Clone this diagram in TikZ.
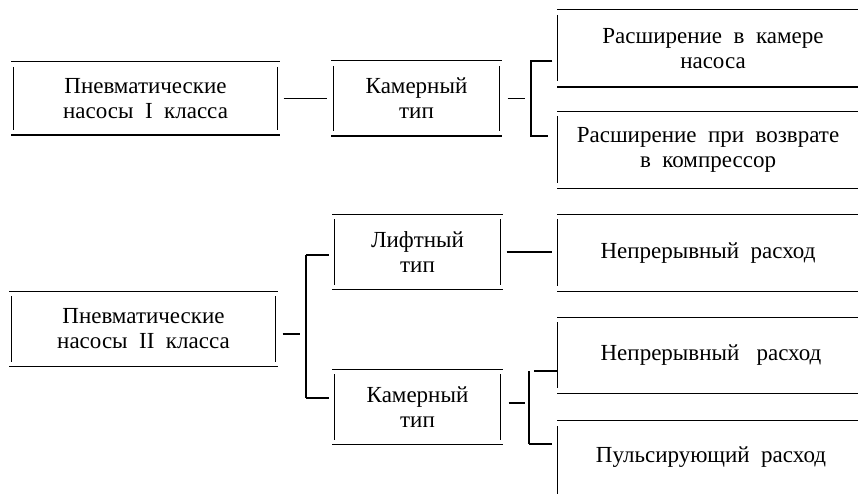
\documentclass[tikz,border=0pt]{standalone}
\usepackage{fontspec}
\setmainfont{Liberation Serif}
\newcommand\fullbox[1]{%
  \draw (#1.north west) -- (#1.north east);
  \draw (#1.south west) -- (#1.south east);
  \draw ([shift={(2pt,-5pt)}]#1.north west) -- ([shift={(2pt,5pt)}]#1.south west);
  \draw ([shift={(-2pt,-5pt)}]#1.north east) -- ([shift={(-2pt,5pt)}]#1.south east);}
\newcommand\openbox[1]{%
  \draw (#1.north west) -- (#1.north east);
  \draw (#1.south west) -- (#1.south east);
  \draw ([shift={(0pt,-5pt)}]#1.north west) -- ([shift={(0pt,6pt)}]#1.south west);}
\begin{document}
\begin{tikzpicture}[x=1pt,y=-1pt,line width=1.25pt,
  lbl/.style={inner sep=0pt,align=center,font=\fontsize{23}{25}\selectfont},
  leftbox/.style={lbl,minimum width=267pt,minimum height=72pt},
  midbox/.style={lbl,minimum width=169pt,minimum height=74pt},
  rightbox/.style={lbl,minimum width=300pt,minimum height=76pt},
  link/.style={shorten <=4pt,shorten >=4pt}]
\useasboundingbox (0,0) rectangle (858,494);

% upper group
\node[leftbox] (A) at (145.5,98.5) {Пневматические\\насосы\ \ I\ \ класса};
\node[midbox] (B) at (416.5,98.5) {Камерный\\тип};
\node[rightbox] (C1) at (708,48.5) {\hspace*{10pt}Расширение\ \ в\ \ камере\\\hspace*{10pt}насоса};
\node[rightbox] (C2) at (708,150) {Расширение\ \ при\ \ возврате\\в\ \ компрессор};
\fullbox{A}\fullbox{B}\openbox{C1}\openbox{C2}

\coordinate (b1m) at (525,98.5);
\coordinate (b1t) at (531,61);
\coordinate (b1b) at (531,136);
\draw[link] (A.east) -- (B.west);
\draw[shorten <=6pt] (B.east) -- (b1m);
\draw[shorten >=5pt] (b1t -| C1.west) ++(-5,0) -- (b1t) -- (b1b) -- ++(22,0);

% lower group
\node[leftbox,minimum height=74pt] (D) at (143.5,329) {Пневматические\\насосы\ \ II\ \ класса};
\node[midbox] (E) at (417.5,252) {Лифтный\\тип};
\node[midbox] (F) at (417.5,407) {Камерный\\тип};
\node[rightbox] (G) at (708,253) {Непрерывный\ \ расход};
\node[rightbox,minimum height=75pt] (H) at (708,355.5) {\hspace*{6pt}Непрерывный\ \ \ расход};
\node[lbl,minimum width=300pt,minimum height=73pt] (I) at (708,457.5) {\hspace*{6pt}Пульсирующий\ \ расход};
\fullbox{D}\fullbox{E}\fullbox{F}\openbox{G}\openbox{H}
\draw (I.north west) -- (I.north east);
\draw ([shift={(0pt,-6pt)}]I.north west) -- (I.south west);

\coordinate (b2m) at (300,334);
\coordinate (b2t) at (306,255);
\coordinate (b2b) at (306,398);
\draw[shorten <=5pt] (D.east) ++(0,5) -- (b2m);
\draw (b2t) -- (b2b);
\draw[shorten >=3pt] (b2t) -- (b2t -| E.west);
\draw[shorten >=3pt] (b2b) -- (b2b -| F.west);

\draw[link,shorten >=5pt] (E.east) -- (E.east -| G.west);

\coordinate (b3m) at (525,403);
\coordinate (b3t) at (529,371);
\coordinate (b3b) at (529,444);
\draw[shorten <=6pt] (F.east) ++(0,-4) -- (b3m);
\draw[shorten >=5pt] (b3t -| H.west) -- (b3t);
\draw (b3t) -- (b3b);
\draw[shorten >=5pt] (b3b) -- (b3b -| I.west);
\end{tikzpicture}
\end{document}
